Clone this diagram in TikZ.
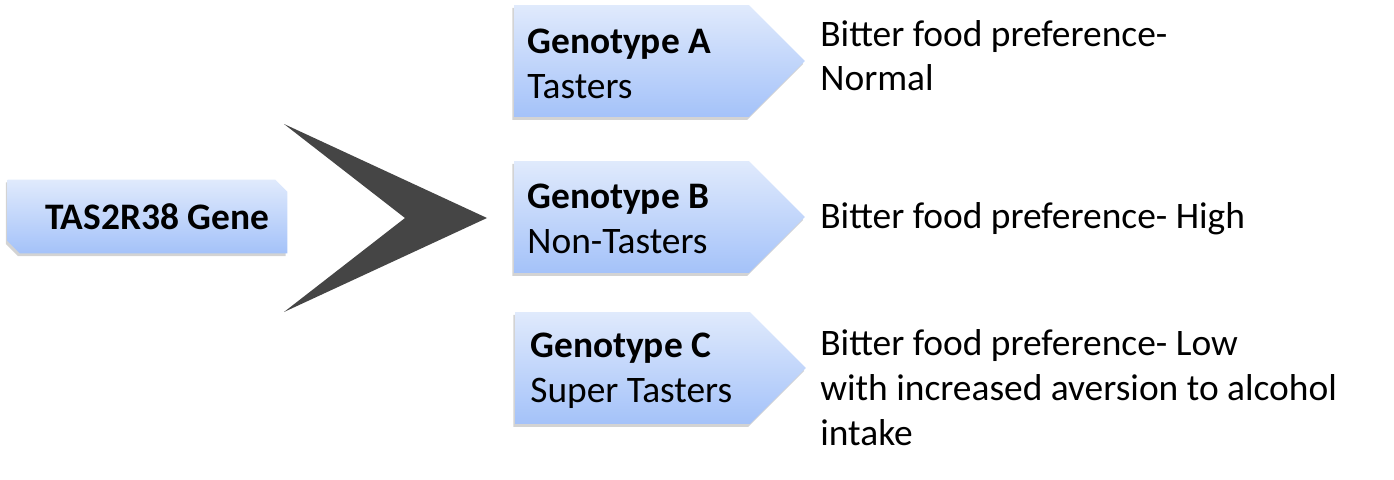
\documentclass[tikz,border=0pt]{standalone}
\usepackage{fontspec}
\setmainfont{Carlito}
\usetikzlibrary{shapes.symbols,shadows,calc}
\definecolor{boxtop}{RGB}{224,234,252}
\definecolor{boxbot}{RGB}{164,194,249}
\definecolor{chev}{RGB}{69,69,69}

\begin{document}
\begin{tikzpicture}[
    x=0.02cm, y=-0.02cm,
    font=\fontsize{21.3}{25.6}\selectfont,
    boxshade/.style={top color=boxtop, bottom color=boxbot, draw=none,
        drop shadow={shadow xshift=-1pt, shadow yshift=-1.6pt, opacity=0.35}},
    genebox/.style={rectangle, draw=none, minimum width=5.58cm, minimum height=1.46cm, inner sep=0pt},
    typebox/.style={signal, signal to=east, signal pointer angle=90, boxshade,
        minimum width=5.82cm, minimum height=2.24cm, inner sep=0pt},
    txt/.style={anchor=base west, inner sep=0pt, align=left},
]
\useasboundingbox (0,0) rectangle (1394,480);

% ---------- gene ----------
\node[genebox] (gene) at (147.5,216.5) {};
\path[boxshade] (gene.north west) -- ($(gene.north east)+(-12,0)$) -- ($(gene.north east)+(0,12)$)
    -- (gene.south east) -- ($(gene.south west)+(12,0)$) -- ($(gene.south west)+(0,-12)$) -- cycle;
\node[txt] (genetxt) at (45,229) {\textbf{TAS2R38 Gene}};

% ---------- chevron ----------
\coordinate (cA) at (284,124);
\coordinate (cT) at (487,218);
\coordinate (cB) at (284,312);
\coordinate (cN) at (405,218);
\fill[chev] (cA) -- (cT) -- (cB) -- (cN) -- cycle;

% ---------- genotypes ----------
\node[typebox] (gA) at (631.5,61) {};
\node[typebox] (gB) at (631.5,217) {};
\node[typebox] (gC) at (632.5,368) {};

% (base anchor sits on the last line)
\node[txt] (tA) at (527,98) {\textbf{Genotype A}\\Tasters};
\node[txt] (tB) at (527,253) {\textbf{Genotype B}\\Non-Tasters};
\node[txt] (tC) at (530,402) {\textbf{Genotype C}\\Super Tasters};

% ---------- preferences ----------
\node[txt] (pA) at (820,91) {Bitter food preference-\\Normal};
\node[txt] (pB) at (820,228) {Bitter food preference- High};
\node[txt] (pC) at (820,445) {Bitter food preference- Low\\with increased aversion to alcohol\\intake};

\end{tikzpicture}
\end{document}
